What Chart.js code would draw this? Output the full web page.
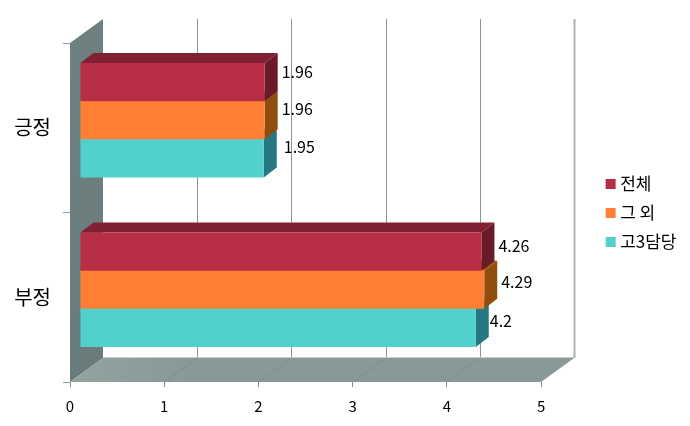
<!DOCTYPE html>
<html><head><meta charset="utf-8">
<style>html,body{margin:0;padding:0;background:#fff}#w{width:690px;height:426px}</style>
<script src="https://cdn.jsdelivr.net/npm/chart.js@4"></script>
</head><body><div id="w"><canvas id="c" width="690" height="426"></canvas></div>
<script>
const categories = ['긍정', '부정'];
const seriesNames = ['전체', '그 외', '고3담당'];
const totalValues = [1.96, 4.26];
const otherValues = [1.96, 4.29];
const seniorValues = [1.95, 4.2];
const tickValues = [0, 1, 2, 3, 4, 5];

const FONT = '"Noto Sans CJK KR","Noto Sans",sans-serif';
const frontColors = ['#B82E47', '#FF8035', '#52D1CC'];
const sideColors = ['#6B1A2A', '#8F4E0D', '#267780'];
const topColors = ['#802032', '#8F4E0D', '#267780'];
// label placement relative to the end of each bar: [dataset][category] -> [dx, dy]
const labelNudge = [[[17, -10.5], [17, -6]], [[17, -11.5], [17, -7.5]], [[20, -11.5], [14, -7]]];
const WALL = {dx: 33, dy: 24};
const BAR = {shiftX: 10, shiftY: -7.5, dx: 13, dy: 10};

function poly(ctx, pts, fill) {
  ctx.beginPath();
  pts.forEach((p, i) => i ? ctx.lineTo(p[0], p[1]) : ctx.moveTo(p[0], p[1]));
  ctx.closePath();
  ctx.fillStyle = fill;
  ctx.fill();
}

const box3d = {
  id: 'box3d',
  beforeDatasetsDraw(chart) {
    const {ctx, chartArea: a, scales: {x}} = chart;
    ctx.save();
    const wg = ctx.createLinearGradient(0, a.top, 0, a.bottom);
    wg.addColorStop(0, '#6F8080');
    wg.addColorStop(1, '#6A7B7B');
    poly(ctx, [[a.left, a.top], [a.left + WALL.dx, a.top - WALL.dy], [a.left + WALL.dx, a.bottom - WALL.dy], [a.left, a.bottom]], wg);
    const fg = ctx.createLinearGradient(a.left, 0, a.left + 120, 0);
    fg.addColorStop(0, '#93A3A0');
    fg.addColorStop(1, '#889997');
    poly(ctx, [[a.left, a.bottom], [a.right, a.bottom], [a.right + WALL.dx, a.bottom - WALL.dy], [a.left + WALL.dx, a.bottom - WALL.dy]], fg);
    tickValues.forEach(v => {
      if (v === 0) return;
      const px = x.getPixelForValue(v);
      const last = v === tickValues[tickValues.length - 1];
      ctx.beginPath();
      ctx.moveTo(Math.round(px + WALL.dx) + 0.5, a.top - WALL.dy);
      ctx.lineTo(Math.round(px + WALL.dx) + 0.5, a.bottom - WALL.dy);
      ctx.strokeStyle = last ? '#A6B3B2' : '#879896';
      ctx.lineWidth = last ? 2 : 1;
      ctx.stroke();
      if (!last) {
        ctx.beginPath();
        ctx.moveTo(px, a.bottom);
        ctx.lineTo(px + WALL.dx, a.bottom - WALL.dy);
        ctx.strokeStyle = '#7D8F8D';
        ctx.lineWidth = 1;
        ctx.stroke();
      }
    });
    ctx.beginPath();
    ctx.moveTo(a.left + WALL.dx, a.bottom - WALL.dy - 0.5);
    ctx.lineTo(a.right + WALL.dx, a.bottom - WALL.dy - 0.5);
    ctx.strokeStyle = '#C6CFCD';
    ctx.lineWidth = 1;
    ctx.stroke();
    ctx.restore();
  },
  beforeDatasetDraw(chart, args) {
    const {ctx} = chart;
    ctx.save();
    ctx.translate(BAR.shiftX, BAR.shiftY);
    const i = args.index;
    args.meta.data.forEach(b => {
      const t = b.y - b.height / 2, u = b.y + b.height / 2;
      poly(ctx, [[b.base, t], [b.x, t], [b.x + BAR.dx, t - BAR.dy], [b.base + BAR.dx, t - BAR.dy]], topColors[i]);
      poly(ctx, [[b.x, t], [b.x + BAR.dx, t - BAR.dy], [b.x + BAR.dx, u - BAR.dy], [b.x, u]], sideColors[i]);
      // underlay so no background shows through the seam with the bar above
      if (i > 0) poly(ctx, [[b.base, t - 1], [b.x, t - 1], [b.x, t + 1], [b.base, t + 1]], frontColors[i]);
    });
  },
  afterDatasetDraw(chart) {
    chart.ctx.restore();
  },
  afterDatasetsDraw(chart) {
    const {ctx} = chart;
    ctx.save();
    ctx.font = '16px ' + FONT;
    ctx.fillStyle = '#000';
    ctx.textAlign = 'left';
    ctx.textBaseline = 'middle';
    chart.data.datasets.forEach((ds, i) => {
      chart.getDatasetMeta(i).data.forEach((b, j) => {
        const n = labelNudge[i][j];
        ctx.fillText(String(ds.data[j]), b.x + BAR.shiftX + n[0], b.y + BAR.shiftY + n[1]);
      });
    });
    ctx.restore();
  }
};

const seriesValues = [totalValues, otherValues, seniorValues];
new Chart(document.getElementById('c'), {
  type: 'bar',
  data: {
    labels: categories,
    datasets: seriesNames.map((name, i) => ({
      label: name,
      data: seriesValues[i],
      backgroundColor: frontColors[i],
      borderWidth: 0,
      clip: false,
      categoryPercentage: 0.6746,
      barPercentage: 1
    }))
  },
  options: {
    indexAxis: 'y',
    responsive: false,
    animation: false,
    layout: {padding: {top: 0, left: 0, right: 3.5, bottom: 0}},
    plugins: {
      tooltip: {enabled: false},
      legend: {
        position: 'right',
        labels: {usePointStyle: true, pointStyle: 'rect', boxWidth: 2, boxHeight: 10, padding: 12, color: '#000', font: {family: FONT, size: 17}}
      }
    },
    scales: {
      x: {
        type: 'linear', min: 0, max: 5,
        afterFit(s) { s.height = 44; },
        afterBuildTicks(s) { s.ticks = tickValues.map(v => ({value: v})); },
        grid: {drawOnChartArea: false, drawTicks: true, tickLength: 5, color: '#7F9090'},
        border: {display: false},
        ticks: {color: '#000', padding: 10, maxRotation: 0, font: {family: FONT, size: 15}}
      },
      y: {
        type: 'category',
        afterFit(s) { s.width = 70; },
        grid: {drawOnChartArea: false, drawTicks: true, tickLength: 7, offset: true, color: '#8F9F9F'},
        border: {display: false},
        ticks: {color: '#000', padding: 12, font: {family: FONT, size: 20}}
      },
      gapTop: {
        type: 'linear', position: 'top', display: true,
        afterFit(s) { s.height = 43; },
        grid: {display: false}, border: {display: false}, ticks: {display: false}
      },
      gapRight: {
        type: 'linear', position: 'right', display: true,
        afterFit(s) { s.width = 56.5; },
        grid: {display: false}, border: {display: false}, ticks: {display: false}
      }
    }
  },
  plugins: [box3d]
});
</script>
</body></html>
